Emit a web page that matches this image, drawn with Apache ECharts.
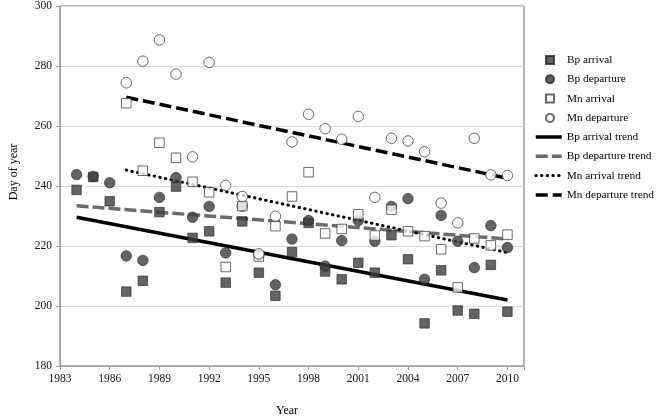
<!DOCTYPE html>
<html>
<head>
<meta charset="utf-8">
<script src="https://cdn.jsdelivr.net/npm/echarts@6/dist/echarts.min.js"></script>
<style>html,body{margin:0;padding:0;background:#fff}#c{width:656px;height:417px}</style>
</head>
<body>
<div id="c"></div>
<script>
var bpYears = [1984,1985,1986,1987,1988,1989,1990,1991,1992,1993,1994,1995,1996,1997,1998,1999,2000,2001,2002,2003,2004,2005,2006,2007,2008,2009,2010];
var bpArrival = [238.7,243,234.9,204.8,208.4,231.3,239.8,222.7,224.9,207.8,228.2,211.1,203.4,218,227.7,211.5,208.9,214.4,211.1,223.6,215.6,194.2,211.9,198.5,197.4,213.7,198.1];
var bpDeparture = [243.8,243.2,241.1,216.7,215.2,236.2,242.8,229.6,233.2,217.7,233.3,217,207.1,222.3,228.5,213.3,221.8,228.5,221.6,233.2,235.8,208.9,230.2,221.6,212.8,226.8,219.5];
var mnYears = [1987,1988,1989,1990,1991,1992,1993,1994,1995,1996,1997,1998,1999,2000,2001,2002,2003,2004,2005,2006,2007,2008,2009,2010];
var mnArrival = [267.6,245.1,254.4,249.4,241.4,237.9,213,233.3,216.5,226.6,236.5,244.6,224.2,225.7,230.6,223.5,232.1,224.9,223.3,218.9,206.2,222.5,220.2,223.8];
var mnDeparture = [274.4,281.6,288.7,277.3,249.7,281.2,240.2,236.5,217.4,229.9,254.7,263.9,259.1,255.6,263.2,236.2,255.9,255,251.4,234.3,227.7,255.9,243.7,243.5];
// trend line end points
var bpArrivalTrend = [[1984,229.6],[2010,202]];
var bpDepartureTrend = [[1984,233.4],[2010,222.3]];
var mnArrivalTrend = [[1987,245.3],[2010,217.8]];
var mnDepartureTrend = [[1987,269.6],[2010,242.6]];
var xTicks = [1983,1986,1989,1992,1995,1998,2001,2004,2007,2010];
var yTicks = [180,200,220,240,260,280,300];

function pairs(xs, ys){ return xs.map(function(x,i){ return [x, ys[i]]; }); }

var FONT = 'Liberation Serif';
var SQ = 'path://M0,0L10,0L10,10L0,10Z';
var chart = echarts.init(document.getElementById('c'), null, {renderer:'canvas'});
var darkStyle = {color:'#3d3d3d', borderColor:'#262626', borderWidth:0.8};
var openStyle = {color:'#ffffff', borderColor:'#444444', borderWidth:1};

chart.setOption({
  animation:false,
  backgroundColor:'#fff',
  textStyle:{fontFamily:FONT, color:'#000'},
  grid:{left:60, right:132, top:3, bottom:51, show:true, borderColor:'#6a6a6a', borderWidth:1, backgroundColor:'transparent'},
  xAxis:{
    type:'value', min:xTicks[0], max:2011, interval:3,
    axisLine:{show:true, lineStyle:{color:'#a0a0a0', width:1}},
    axisTick:{show:true, length:4, lineStyle:{color:'#a0a0a0'}},
    splitLine:{show:false},
    axisLabel:{margin:7, fontSize:11.5, fontFamily:FONT, color:'#111',
      formatter:function(v){ return xTicks.indexOf(v) >= 0 ? String(v) : ''; }}
  },
  yAxis:{
    type:'value', min:yTicks[0], max:yTicks[yTicks.length-1], interval:20,
    axisLine:{show:true, lineStyle:{color:'#a0a0a0', width:1}},
    axisTick:{show:true, length:4, lineStyle:{color:'#a0a0a0'}},
    splitLine:{show:true, lineStyle:{color:'#dadada', width:1}},
    axisLabel:{margin:8, fontSize:11.5, fontFamily:FONT, color:'#111'}
  },
  legend:[
    {orient:'vertical', left:540, top:48, itemWidth:24, itemHeight:8, itemGap:5.3,
     textStyle:{fontSize:11.3, fontFamily:FONT, color:'#000', lineHeight:14},
     data:[{name:'Bp arrival', icon:SQ},{name:'Bp departure', icon:'circle'},{name:'Mn arrival', icon:SQ},{name:'Mn departure', icon:'circle'}]},
    {orient:'vertical', left:529, top:125, itemWidth:26, itemHeight:14, itemGap:5.3,
     itemStyle:{color:'transparent', borderColor:'transparent', borderWidth:0, opacity:0},
     lineStyle:{width:3.5},
     textStyle:{fontSize:11.3, fontFamily:FONT, color:'#000', lineHeight:14},
     data:['Bp arrival trend','Bp departure trend',{name:'Mn arrival trend', lineStyle:{width:3}},'Mn departure trend']}
  ],
  graphic:[
    {type:'text', x:14, y:172, rotation:Math.PI/2,
     style:{text:'Day of year', font:'12px "Liberation Serif"', fill:'#000', textAlign:'center', textVerticalAlign:'middle'}},
    {type:'text', x:287, y:411, style:{text:'Year', font:'12px "Liberation Serif"', fill:'#000', textAlign:'center', textVerticalAlign:'middle'}}
  ],
  series:[
    {name:'Bp arrival trend', type:'line', data:bpArrivalTrend, symbol:'none', z:2,
     lineStyle:{color:'#000', width:3.5, type:'solid'}, itemStyle:{color:'#000'}},
    {name:'Bp departure trend', type:'line', data:bpDepartureTrend, symbol:'none', z:2,
     lineStyle:{color:'#6b6b6b', width:3.5, type:[12,4]}, itemStyle:{color:'#6b6b6b'}},
    {name:'Mn arrival trend', type:'line', data:mnArrivalTrend, symbol:'none', z:2,
     lineStyle:{color:'#000', width:3, type:[0.5,5.2], cap:'round'}, itemStyle:{color:'#000'}},
    {name:'Mn departure trend', type:'line', data:mnDepartureTrend, symbol:'none', z:2,
     lineStyle:{color:'#000', width:3.5, type:[12,5]}, itemStyle:{color:'#000'}},
    {name:'Bp arrival', type:'scatter', symbol:'rect', symbolSize:9.5, z:3, data:pairs(bpYears,bpArrival), itemStyle:darkStyle},
    {name:'Bp departure', type:'scatter', symbol:'circle', symbolSize:10.5, z:3, data:pairs(bpYears,bpDeparture), itemStyle:darkStyle},
    {name:'Mn arrival', type:'scatter', symbol:'rect', symbolSize:9.5, z:3, data:pairs(mnYears,mnArrival), itemStyle:openStyle},
    {name:'Mn departure', type:'scatter', symbol:'circle', symbolSize:10.5, z:3, data:pairs(mnYears,mnDeparture), itemStyle:openStyle}
  ]
});
</script>
</body>
</html>
